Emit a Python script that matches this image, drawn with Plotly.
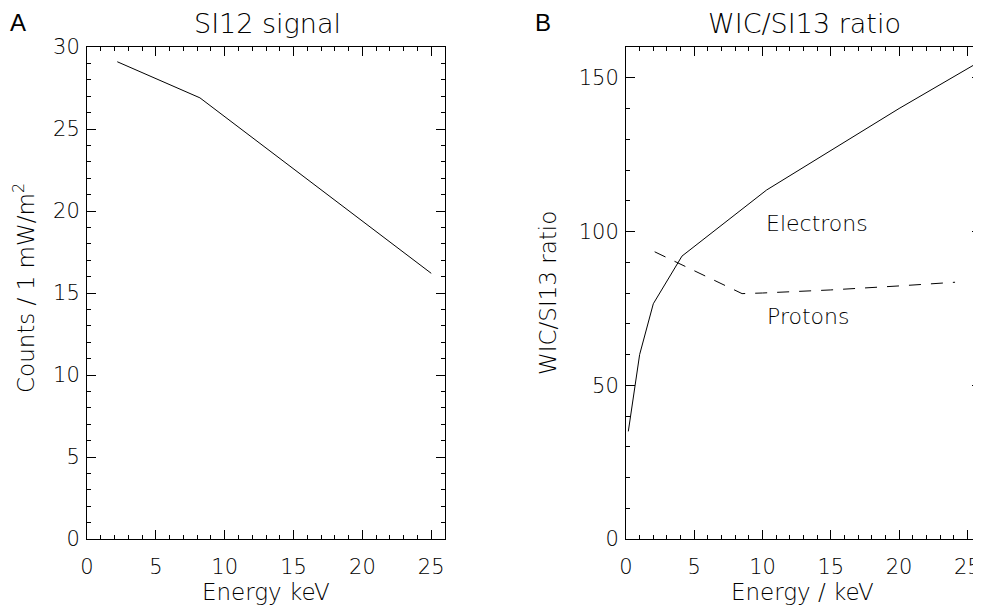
import plotly.graph_objects as go

# panel A: SI12 signal
si12_energy = [2.2, 8.2, 25.0]
si12_counts = [29.1, 26.9, 16.2]

# panel B: WIC/SI13 ratio
electron_energy = [0.17, 1.0, 2.0, 4.1, 10.3, 20.0, 26.0]
electron_ratio = [35.0, 60.0, 76.5, 92.0, 113.5, 140.0, 155.5]
proton_energy = [2.1, 8.5, 10.0, 15.0, 20.0, 24.1]
proton_ratio = [93.4, 79.8, 80.0, 81.0, 82.3, 83.5]

# the page body has an 8px margin, so the figure is drawn 8px in from the corner
OFF = 8
W, H = 981 - OFF, 608 - OFF
FONT = 'DejaVu Sans'
font = dict(family=FONT, size=21, color='black', weight=200)
title_font = dict(font, size=23)
panel_font = dict(family='Liberation Sans', size=24, color='black')

fig = go.Figure()

fig.add_trace(go.Scatter(x=si12_energy, y=si12_counts, mode='lines',
                         line=dict(color='black', width=1), xaxis='x', yaxis='y'))
fig.add_trace(go.Scatter(x=electron_energy, y=electron_ratio, mode='lines',
                         line=dict(color='black', width=1), xaxis='x2', yaxis='y2'))
fig.add_trace(go.Scatter(x=proton_energy, y=proton_ratio, mode='lines',
                         line=dict(color='black', width=1, dash='12px,10px'),
                         xaxis='x2', yaxis='y2'))


def axis(rng, dtick, minor_dtick, domain, anchor, standoff):
    return dict(range=rng, dtick=dtick, domain=domain, anchor=anchor, automargin=False,
                showgrid=False, zeroline=False, showline=True, linecolor='black',
                linewidth=1, mirror='allticks', ticks='inside', ticklen=9,
                tickcolor='black', tickwidth=1, tickfont=font, ticklabelstandoff=standoff,
                minor=dict(dtick=minor_dtick, ticks='inside', ticklen=4,
                           tickcolor='black', tickwidth=1, showgrid=False))


# screen pixel -> paper coords (margins are zero)
def px(x):
    return min((x - OFF) / W, 1.0)


def py(y):
    return 1 - (y - OFF) / H


ydom = [py(539), py(47)]
fig.update_layout(
    width=W, height=H,
    margin=dict(l=0, r=0, t=0, b=0),
    paper_bgcolor='white', plot_bgcolor='white',
    showlegend=False,
    xaxis=axis([0, 26], 5, 1, [px(87), px(445)], 'y', 9),
    yaxis=axis([0, 30], 5, 1, ydom, 'x', 2),
    xaxis2=axis([0, 26], 5, 1, [px(626), 1.0], 'y2', 9),
    yaxis2=axis([0, 160], 50, 10, ydom, 'x2', 2),
)

labels = [
    dict(text='SI12 signal', x=267, y=24, font=dict(font, size=27)),
    dict(text='WIC/SI13 ratio', x=804, y=24, font=dict(font, size=27)),
    dict(text='Energy keV', x=266, y=592, font=title_font),
    dict(text='Energy / keV', x=802, y=592, font=title_font),
    dict(text='Counts / 1 mW/m<sup>2</sup>', x=24, y=288, font=title_font, textangle=-90),
    dict(text='WIC/SI13 ratio', x=548, y=293, font=title_font, textangle=-90),
]
for a in labels:
    a['x'] = px(a['x'])
    a['y'] = py(a['y'])
    fig.add_annotation(xref='paper', yref='paper', showarrow=False,
                       xanchor='center', yanchor='middle', **a)

# panel letters, pinned to the top edge so they are not clipped
for letter, x in [('A', 18), ('B', 543)]:
    fig.add_annotation(text=letter, x=px(x), y=1.0, xref='paper', yref='paper',
                       showarrow=False, xanchor='center', yanchor='top',
                       borderpad=0, font=panel_font)

fig.add_annotation(text='Electrons', x=14.0, y=102.5, xref='x2', yref='y2',
                   showarrow=False, font=dict(font, size=22))
fig.add_annotation(text='Protons', x=13.3, y=72.5, xref='x2', yref='y2',
                   showarrow=False, font=dict(font, size=22))

fig.write_html('out.html')
